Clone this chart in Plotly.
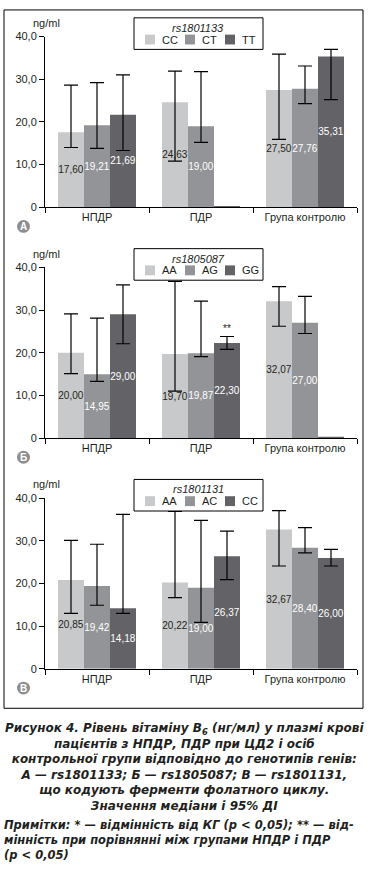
import plotly.graph_objects as go

W, H = 371, 879

categories = ["НПДР", "ПДР", "Група контролю"]
y_tickvals = [0, 10, 20, 30, 40]
y_ticktext = ["0", "10,0", "20,0", "30,0", "40,0"]
bar_colors = ["#c8c9cb", "#939497", "#636367"]
label_colors = ["#231f20", "#ffffff", "#ffffff"]

# Panel A — rs1801133
a_snp = "rs1801133"
a_genotypes = ["CC", "CT", "TT"]
a_values = [[17.60, 24.63, 27.50], [19.21, 19.00, 27.76], [21.69, 0.3, 35.31]]
a_labels = [["17,60", "24,63", "27,50"], ["19,21", "19,00", "27,76"], ["21,69", None, "35,31"]]
a_upper = [[28.6, 31.9, 35.9], [29.2, 31.8, 33.1], [31.0, None, 37.0]]
a_lower = [[14.0, 10.8, 15.9], [13.8, 15.2, 24.3], [13.3, None, 25.2]]

# Panel Б — rs1805087
b_snp = "rs1805087"
b_genotypes = ["AA", "AG", "GG"]
b_values = [[20.00, 19.70, 32.07], [14.95, 19.87, 27.00], [29.00, 22.30, 0.3]]
b_labels = [["20,00", "19,70", "32,07"], ["14,95", "19,87", "27,00"], ["29,00", "22,30", None]]
b_upper = [[29.1, 36.7, 35.5], [28.1, 32.1, 33.2], [35.9, 23.8, None]]
b_lower = [[15.1, 11.0, 26.2], [13.3, 19.1, 24.5], [22.1, 20.8, None]]

# Panel В — rs1801131
c_snp = "rs1801131"
c_genotypes = ["AA", "AC", "CC"]
c_values = [[20.85, 20.22, 32.67], [19.42, 19.00, 28.40], [14.18, 26.37, 26.00]]
c_labels = [["20,85", "20,22", "32,67"], ["19,42", "19,00", "28,40"], ["14,18", "26,37", "26,00"]]
c_upper = [[30.1, 36.9, 37.1], [29.2, 34.8, 33.1], [36.2, 32.3, 28.0]]
c_lower = [[13.0, 16.7, 24.1], [14.9, 10.9, 27.2], [13.0, 20.9, 24.1]]

caption_lines = [
    "Рисунок 4. Рівень вітаміну B<sub>6</sub> (нг/мл) у плазмі крові",
    "пацієнтів з НПДР, ПДР при ЦД2 і осіб",
    "контрольної групи відповідно до генотипів генів:",
    "А — rs1801133; Б — rs1805087; В — rs1801131,",
    "що кодують ферменти фолатного циклу.",
    "Значення медіани і 95% ДІ",
]
note_lines = [
    "Примітки: * — відмінність від КГ (р < 0,05); ** — від-",
    "мінність при порівнянні між групами НПДР і ПДР",
    "(р < 0,05)",
]

FONT = "Liberation Sans"
CAP_FONT = "DejaVu Sans"
INK = "#231f20"


def px(x):
    return x / W


def py(y):
    return 1 - y / H


fig = go.Figure()

panels = [
    ("", a_snp, a_genotypes, a_values, a_labels, a_upper, a_lower, 31, "A"),
    ("2", b_snp, b_genotypes, b_values, b_labels, b_upper, b_lower, 265, "Б"),
    ("3", c_snp, c_genotypes, c_values, c_labels, c_upper, c_lower, 499, "В"),
]

shapes = []
annotations = []
layout_axes = {}
PLOT_H = 173

for suffix, snp, gts, vals, labs, ups, lows, top, letter in panels:
    xa = "x" + suffix
    ya = "y" + suffix
    for i, gt in enumerate(gts):
        plus = []
        minus = []
        for v, u, l in zip(vals[i], ups[i], lows[i]):
            if u is None:
                plus.append("NaN")
                minus.append("NaN")
            else:
                plus.append(u - v)
                minus.append(v - l)
        fig.add_trace(go.Bar(
            x=categories, y=vals[i], name=gt, xaxis=xa, yaxis=ya,
            marker=dict(color=bar_colors[i], line=dict(width=0)),
            text=labs[i],
            textposition="inside", insidetextanchor="middle",
            textangle=0, constraintext="none",
            insidetextfont=dict(family=FONT, size=10, color=label_colors[i]),
            error_y=dict(type="data", symmetric=False, array=plus, arrayminus=minus,
                         color="#000000", thickness=1.2, width=7),
            showlegend=False, hoverinfo="skip",
        ))
    bottom = top + PLOT_H
    layout_axes["xaxis" + suffix] = dict(
        domain=[px(45), px(357)], anchor=ya, type="category",
        range=[-0.5, 2.5], showline=True, linecolor="#000000", linewidth=1,
        ticks="outside", tickson="boundaries", ticklen=5, tickcolor="#000000",
        tickfont=dict(family=FONT, size=11, color=INK), showgrid=False, zeroline=False,
        fixedrange=True,
    )
    layout_axes["yaxis" + suffix] = dict(
        domain=[py(bottom), py(top)], anchor=xa, range=[0, 40],
        tickvals=y_tickvals, ticktext=y_ticktext, showline=True,
        linecolor="#000000", linewidth=1, ticks="outside", ticklen=5,
        tickcolor="#000000", tickfont=dict(family=FONT, size=11, color=INK),
        showgrid=False, zeroline=False, fixedrange=True,
    )
    # unit label
    annotations.append(dict(text="ng/ml", xref="paper", yref="paper", x=px(31),
                            y=py(top - 14), xanchor="left", yanchor="middle",
                            showarrow=False, font=dict(family=FONT, size=11, color=INK)))
    # legend box
    lx = 134
    shapes.append(dict(type="rect", xref="paper", yref="paper", x0=px(lx), x1=px(263),
                       y0=py(top - 19), y1=py(top + 13),
                       line=dict(color="#000000", width=1), fillcolor="#ffffff"))
    annotations.append(dict(text="<i>" + snp + "</i>", xref="paper", yref="paper",
                            x=px(198.5), y=py(top - 9), xanchor="center", yanchor="middle",
                            showarrow=False, font=dict(family=FONT, size=11, color=INK)))
    for i, gt in enumerate(gts):
        sx = lx + 11 + 40 * i
        shapes.append(dict(type="rect", xref="paper", yref="paper", x0=px(sx), x1=px(sx + 10),
                           y0=py(top + 8), y1=py(top - 2), line=dict(width=0),
                           fillcolor=bar_colors[i]))
        annotations.append(dict(text=gt, xref="paper", yref="paper", x=px(sx + 15),
                                y=py(top + 3), xanchor="left", yanchor="middle",
                                showarrow=False, font=dict(family=FONT, size=11, color=INK)))
    # panel badge
    cy = bottom + 19.5
    shapes.append(dict(type="circle", xref="paper", yref="paper", x0=px(17), x1=px(30),
                       y0=py(cy + 6.5), y1=py(cy - 6.5), line=dict(width=0),
                       fillcolor="#8e8e90"))
    annotations.append(dict(text="<b>" + letter + "</b>", xref="paper", yref="paper",
                            x=px(23.5), y=py(cy), xanchor="center", yanchor="middle",
                            showarrow=False, font=dict(family=FONT, size=10, color="#ffffff")))

# significance mark
annotations.append(dict(text="**", xref="x2", yref="y2", x="ПДР", y=25.6, xshift=26,
                        showarrow=False, yanchor="middle",
                        font=dict(family=FONT, size=10, color=INK)))

# outer frame
shapes.append(dict(type="rect", xref="paper", yref="paper", x0=px(4), x1=px(363),
                   y0=py(712), y1=py(4), line=dict(color="#000000", width=1),
                   fillcolor="rgba(0,0,0,0)", layer="below"))

annotations.append(dict(
    text="<br>".join("<b><i>" + t + "</i></b>" for t in caption_lines),
    xref="paper", yref="paper", x=px(184), y=py(772), xanchor="center", yanchor="middle",
    align="center", showarrow=False, font=dict(family=CAP_FONT, size=12, color=INK)))

annotations.append(dict(
    text="<br>".join("<b><i>" + t + "</i></b>" for t in note_lines),
    xref="paper", yref="paper", x=px(2), y=py(845.5), xanchor="left", yanchor="middle",
    align="left", showarrow=False, font=dict(family=CAP_FONT, size=11.5, color=INK)))

fig.update_layout(
    width=W, height=H, autosize=False,
    margin=dict(l=0, r=0, t=0, b=0),
    paper_bgcolor="#ffffff", plot_bgcolor="rgba(0,0,0,0)",
    barmode="group", bargap=0.25, bargroupgap=0,
    font=dict(family=FONT, size=11, color=INK),
    shapes=shapes, annotations=annotations, showlegend=False,
    **layout_axes,
)

fig.write_html("out.html", config={"displayModeBar": False, "staticPlot": True},
               post_script="document.body.style.margin='0';document.body.style.padding='0';")
